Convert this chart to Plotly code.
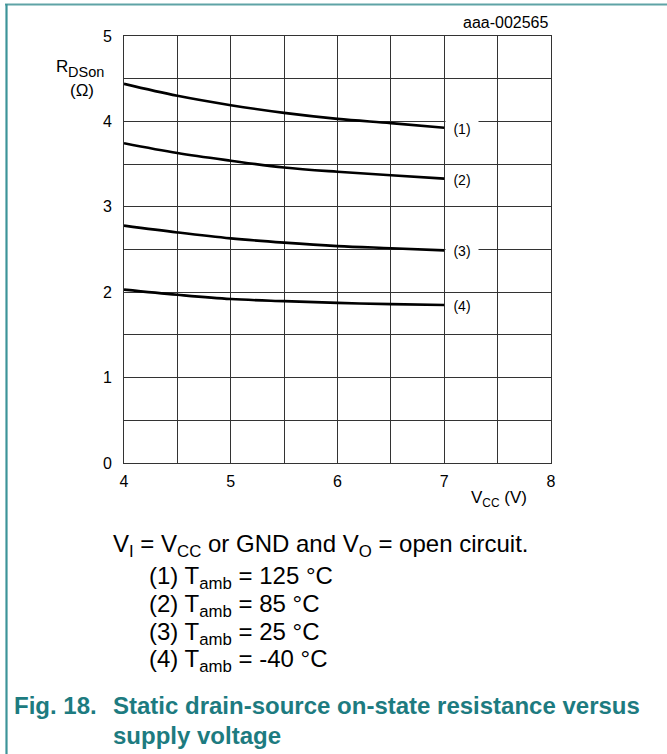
import plotly.graph_objects as go

vcc = [4.0, 4.5, 5.0, 5.5, 6.0, 6.5, 7.0]
r_125 = [4.44, 4.30, 4.19, 4.10, 4.03, 3.98, 3.925]
r_85 = [3.745, 3.63, 3.54, 3.46, 3.41, 3.37, 3.33]
r_25 = [2.78, 2.70, 2.63, 2.58, 2.54, 2.515, 2.49]
r_m40 = [2.03, 1.97, 1.92, 1.895, 1.875, 1.86, 1.85]
curve_labels = ["(1)", "(2)", "(3)", "(4)"]
temps = ["125 °C", "85 °C", "25 °C", "-40 °C"]
x_ticks = [4, 4.5, 5, 5.5, 6, 6.5, 7, 7.5, 8]
x_ticktext = ["4", "", "5", "", "6", "", "7", "", "8"]
y_ticks = [0, 0.5, 1, 1.5, 2, 2.5, 3, 3.5, 4, 4.5, 5]
y_ticktext = ["0", "", "1", "", "2", "", "3", "", "4", "", "5"]

W, H = 667, 754
L, R, T, B = 124, 551, 36, 463
FONT = "Liberation Sans, Arial, sans-serif"
TEAL = "#1d7b80"

def px(x):
    return (x - L) / (R - L)

def py(y):
    return (B - y) / (B - T)

fig = go.Figure()
series = [r_125, r_85, r_25, r_m40]
for s in series:
    fig.add_trace(go.Scatter(x=vcc, y=s, mode="lines", line=dict(color="black", width=2.6, shape="spline"),
                             showlegend=False, hoverinfo="skip"))

ann = []
for s, lab in zip(series, curve_labels):
    ann.append(dict(x=7, y=s[-1], xref="x", yref="y", text=lab, showarrow=False, xanchor="left",
                    xshift=1, yshift=-1, width=30, height=16, bgcolor="white",
                    font=dict(family=FONT, size=14, color="black")))

ann.append(dict(x=px(551), y=py(23), xref="paper", yref="paper", text="aaa-002565", showarrow=False,
                xanchor="right", yanchor="middle", font=dict(family=FONT, size=16, color="black")))
ann.append(dict(x=px(54), y=py(67), xref="paper", yref="paper", text="R",
                showarrow=False, xanchor="left", yanchor="middle",
                font=dict(family=FONT, size=17, color="black")))
ann.append(dict(x=px(66), y=py(72), xref="paper", yref="paper", text="DSon",
                showarrow=False, xanchor="left", yanchor="middle",
                font=dict(family=FONT, size=14.5, color="black")))
ann.append(dict(x=px(82), y=py(90), xref="paper", yref="paper", text="(Ω)",
                showarrow=False, xanchor="center", yanchor="middle",
                font=dict(family=FONT, size=17, color="black")))
ann.append(dict(x=px(529), y=py(499), xref="paper", yref="paper", text="V<sub>CC</sub> (V)",
                showarrow=False, xanchor="right", yanchor="middle",
                font=dict(family=FONT, size=17, color="black")))
ann.append(dict(x=px(111), y=py(545), xref="paper", yref="paper",
                text="V<sub>I</sub> = V<sub>CC</sub> or GND and V<sub>O</sub> = open circuit.",
                showarrow=False, xanchor="left", yanchor="middle",
                font=dict(family=FONT, size=24, color="black")))
line_y = [577, 605, 633, 660]
for lab, t, yy in zip(curve_labels, temps, line_y):
    ann.append(dict(x=px(147), y=py(yy), xref="paper", yref="paper",
                    text=f"{lab} T<sub>amb</sub> = {t}", showarrow=False, xanchor="left", yanchor="middle",
                    font=dict(family=FONT, size=24, color="black")))
ann.append(dict(x=px(12), y=py(705), xref="paper", yref="paper", text="<b>Fig. 18.</b>",
                showarrow=False, xanchor="left", yanchor="middle",
                font=dict(family=FONT, size=24, color=TEAL)))
ann.append(dict(x=px(111), y=py(705), xref="paper", yref="paper",
                text="<b>Static drain-source on-state resistance versus</b>",
                showarrow=False, xanchor="left", yanchor="middle",
                font=dict(family=FONT, size=24, color=TEAL)))
ann.append(dict(x=px(111), y=py(735), xref="paper", yref="paper",
                text="<b>supply voltage</b>",
                showarrow=False, xanchor="left", yanchor="middle",
                font=dict(family=FONT, size=24, color=TEAL)))

shapes = [
    dict(type="line", xref="paper", yref="paper", x0=px(5), x1=px(667), y0=py(4.5), y1=py(4.5),
         line=dict(color="#5fa3a6", width=2)),
    dict(type="line", xref="paper", yref="paper", x0=px(6.5), x1=px(6.5), y0=py(4), y1=py(754),
         line=dict(color="#3d9499", width=2.2)),
]

fig.update_layout(
    width=W, height=H,
    margin=dict(l=L, r=W - R, t=T, b=H - B, pad=0),
    paper_bgcolor="white", plot_bgcolor="white",
    annotations=ann, shapes=shapes,
    font=dict(family=FONT, size=16, color="black"),
    xaxis=dict(range=[4, 8], tickvals=x_ticks, ticktext=x_ticktext, showgrid=True, gridcolor="#333333",
               gridwidth=1, showline=True, linecolor="#333333", linewidth=1, mirror=True, ticks="",
               ticklabelstandoff=4, zeroline=False, tickfont=dict(family=FONT, size=16), fixedrange=True),
    yaxis=dict(range=[0, 5], tickvals=y_ticks, ticktext=y_ticktext, showgrid=True, gridcolor="#333333",
               gridwidth=1, showline=True, linecolor="#333333", linewidth=1, mirror=True, ticks="",
               ticklabelstandoff=8, zeroline=False, tickfont=dict(family=FONT, size=16), fixedrange=True),
)

fig.write_html("out.html", config={"displayModeBar": False},
               post_script="document.body.style.margin='0px';document.body.style.padding='0px';")
